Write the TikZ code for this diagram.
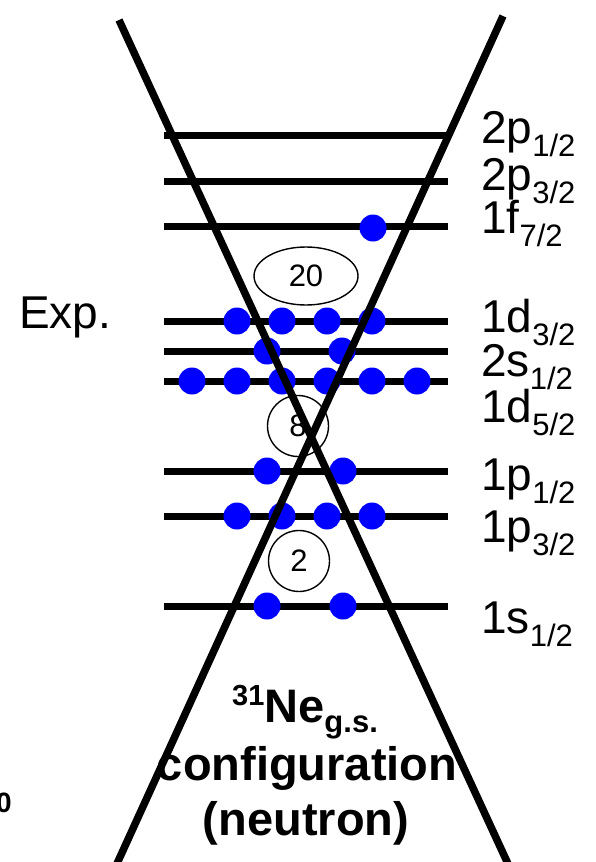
\documentclass[tikz,border=0pt]{standalone}
\usepackage{fontspec}
\setmainfont{Liberation Sans}
\usepackage{tikz}
\usetikzlibrary{shapes.geometric}
\tikzset{
    mylevel/.style={line width=7pt,draw=black},
    myline/.style={line width=7.5pt,draw=black},
    mymagic/.style={draw=black,line width=1.4pt,inner sep=0pt,font=\fontsize{31}{31}\selectfont},
    mylabel/.style={anchor=base west,inner sep=0pt,font=\fontsize{46}{46}\selectfont},
    mytitle/.style={anchor=base,inner sep=0pt,font=\bfseries\fontsize{47}{47}\selectfont}
}
\newcommand{\orb}[2]{#1\raisebox{-13pt}{\fontsize{31}{31}\selectfont #2}}

\begin{document}
\begin{tikzpicture}[x=1pt,y=-1pt]
  \useasboundingbox (0,0) rectangle (596,862);

  % 能级
  \foreach \Y in {135,181,226,321,351,381,471,516,606}{
    \draw[mylevel] (164,\Y) -- (448,\Y);
  }

  % 中子
  \foreach \X/\Y in {373/228,
      237/321,282/321,327/321,372/321,
      267/351,342/351,
      192/381,237/381,282/381,327/381,372/381,417/381,
      267/471,343/471,
      237/516,282/516,327/516,372/516,
      267/606,343/606}{
    \fill[blue] (\X,\Y) circle (13.5pt);
  }

  % 幻数
  \node[mymagic,ellipse,minimum width=104pt,minimum height=58pt] (M20) at (306,276) {20};
  \node[mymagic,circle,minimum size=61pt] (M8) at (298,426) {8};
  \node[mymagic,circle,minimum size=61pt] (M2) at (299,561) {2};

  % 两条斜线
  \coordinate (A0) at (119,20);
  \coordinate (A1) at (509,866);
  \coordinate (B0) at (503,16);
  \coordinate (B1) at (115,868);
  \draw[myline] (A0) -- (A1);
  \draw[myline] (B0) -- (B1);

  % 轨道标签
  \node[mylabel] (L1) at (481,143) {\orb{2p}{1/2}};
  \node[mylabel] (L2) at (481,190) {\orb{2p}{3/2}};
  \node[mylabel] (L3) at (481,233) {\orb{1f}{7/2}};
  \node[mylabel] (L4) at (481,332) {\orb{1d}{3/2}};
  \node[mylabel] (L5) at (481,376) {\orb{2s}{1/2}};
  \node[mylabel] (L6) at (481,422) {\orb{1d}{5/2}};
  \node[mylabel] (L7) at (481,490) {\orb{1p}{1/2}};
  \node[mylabel] (L8) at (481,542) {\orb{1p}{3/2}};
  \node[mylabel] (L9) at (481,633) {\orb{1s}{1/2}};
  \node[mylabel] (Exp) at (19,328) {Exp.};

  % 标题
  \node[mytitle] (T1) at (305,722)
    {\raisebox{17pt}{\fontsize{29}{29}\selectfont 31}Ne\raisebox{-10pt}{\fontsize{31}{31}\selectfont g.s.}};
  \node[mytitle] (T2) at (307,780) {configuration};
  \node[mytitle] (T3) at (306,835) {(neutron)};
  \node[anchor=base east,inner sep=0pt,font=\bfseries\fontsize{28}{28}\selectfont] (T0) at (12,812) {0};
\end{tikzpicture}
\end{document}
